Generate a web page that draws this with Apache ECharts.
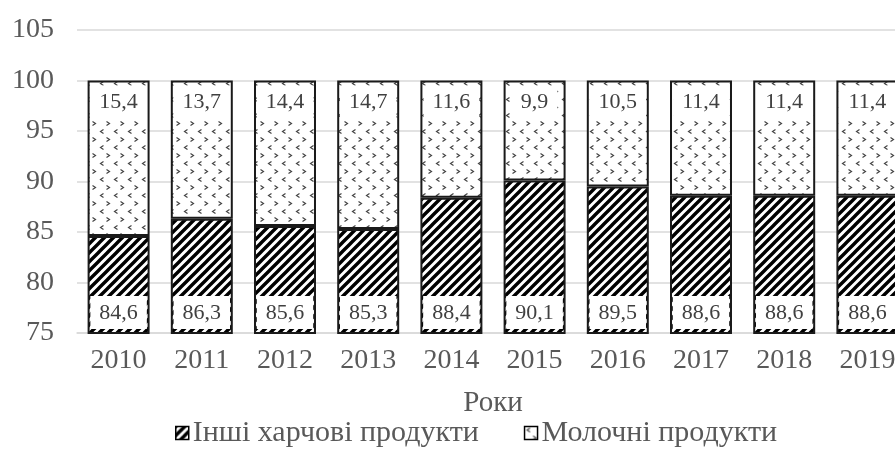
<!DOCTYPE html>
<html>
<head>
<meta charset="utf-8">
<script src="https://cdn.jsdelivr.net/npm/echarts@6/dist/echarts.min.js"></script>
<style>
  html, body { margin: 0; padding: 0; background: #fff; }
  #main { width: 895px; height: 450px; }
</style>
</head>
<body>
<div id="main"></div>
<script>
// дані з рисунку
var years = ['2010', '2011', '2012', '2013', '2014', '2015', '2016', '2017', '2018', '2019'];
var otherFood = [84.6, 86.3, 85.6, 85.3, 88.4, 90.1, 89.5, 88.6, 88.6, 88.6];
var dairy = [15.4, 13.7, 14.4, 14.7, 11.6, 9.9, 10.5, 11.4, 11.4, 11.4];
var yTicks = [75, 80, 85, 90, 95, 100, 105];

var FONT = '"Liberation Serif", "Times New Roman", serif';

// штрихування "/"
function hatchPattern () {
  var c = document.createElement('canvas');
  c.width = 9; c.height = 9;
  var ctx = c.getContext('2d');
  ctx.fillStyle = '#fff';
  ctx.fillRect(0, 0, 9, 9);
  ctx.strokeStyle = '#000';
  ctx.lineWidth = 3.4;
  ctx.beginPath();
  ctx.moveTo(-2, 11); ctx.lineTo(11, -2);
  ctx.moveTo(-11, 11); ctx.lineTo(2, -2);
  ctx.moveTo(7, 11); ctx.lineTo(20, -2);
  ctx.stroke();
  return c;
}

// крапки-кутики "< >"
function dotPattern () {
  var c = document.createElement('canvas');
  c.width = 14; c.height = 16;
  var ctx = c.getContext('2d');
  ctx.fillStyle = '#fff';
  ctx.fillRect(0, 0, 14, 16);
  ctx.strokeStyle = '#444';
  ctx.lineWidth = 1.2;
  ctx.beginPath();
  ctx.moveTo(5.5, 1.5); ctx.lineTo(2.5, 3.5); ctx.lineTo(5.5, 5.5);
  ctx.moveTo(8.5, 9.5); ctx.lineTo(11.5, 11.5); ctx.lineTo(8.5, 13.5);
  ctx.stroke();
  return c;
}

function fmt (v) {
  return v.toFixed(1).replace('.', ',');
}

var chart = echarts.init(document.getElementById('main'));

var labelBox = {
  show: true,
  fontFamily: FONT,
  fontSize: 22,
  color: '#404040',
  backgroundColor: '#fff',
  padding: [6, 9, 5, 9],
  formatter: function (p) { return fmt(p.value); }
};

var option = {
  animation: false,
  textStyle: { fontFamily: FONT },
  grid: { left: 77, top: 30, width: 832, height: 303, outerBoundsMode: 'none', containLabel: false },
  legend: {
    top: 413,
    left: 170,
    itemWidth: 13,
    itemHeight: 13,
    itemGap: 45,
    icon: 'rect',
    textStyle: { fontFamily: FONT, fontSize: 30, color: '#595959', padding: [0, 0, 0, -1] },
    itemStyle: { borderColor: '#000', borderWidth: 1.5 },
    data: ['Інші харчові продукти', 'Молочні продукти']
  },
  xAxis: {
    type: 'category',
    data: years,
    name: 'Роки',
    nameLocation: 'middle',
    nameGap: 56,
    nameTextStyle: { fontFamily: FONT, fontSize: 29, color: '#595959' },
    axisLine: { lineStyle: { color: '#d9d9d9', width: 1.5 } },
    axisTick: { show: false },
    axisLabel: { fontFamily: FONT, fontSize: 28, color: '#595959', margin: 14 }
  },
  yAxis: {
    type: 'value',
    min: yTicks[0],
    max: yTicks[yTicks.length - 1],
    interval: 5,
    axisLine: { show: false },
    axisTick: { show: false },
    splitLine: { lineStyle: { color: '#d9d9d9', width: 1.5 } },
    axisLabel: { fontFamily: FONT, fontSize: 28, color: '#595959', margin: 23 }
  },
  series: [
    {
      name: 'Інші харчові продукти',
      type: 'bar',
      stack: 'all',
      barWidth: '74.5%',
      data: otherFood,
      itemStyle: {
        color: { image: hatchPattern(), repeat: 'repeat' },
        borderColor: '#1a1a1a',
        borderWidth: 2
      },
      label: Object.assign({}, labelBox, { position: 'insideBottom', distance: 5 })
    },
    {
      name: 'Молочні продукти',
      type: 'bar',
      stack: 'all',
      data: dairy,
      itemStyle: {
        color: { image: dotPattern(), repeat: 'repeat' },
        borderColor: '#1a1a1a',
        borderWidth: 2
      },
      label: Object.assign({}, labelBox, { position: 'insideTop', distance: 5 })
    }
  ]
};

chart.setOption(option);
</script>
</body>
</html>
